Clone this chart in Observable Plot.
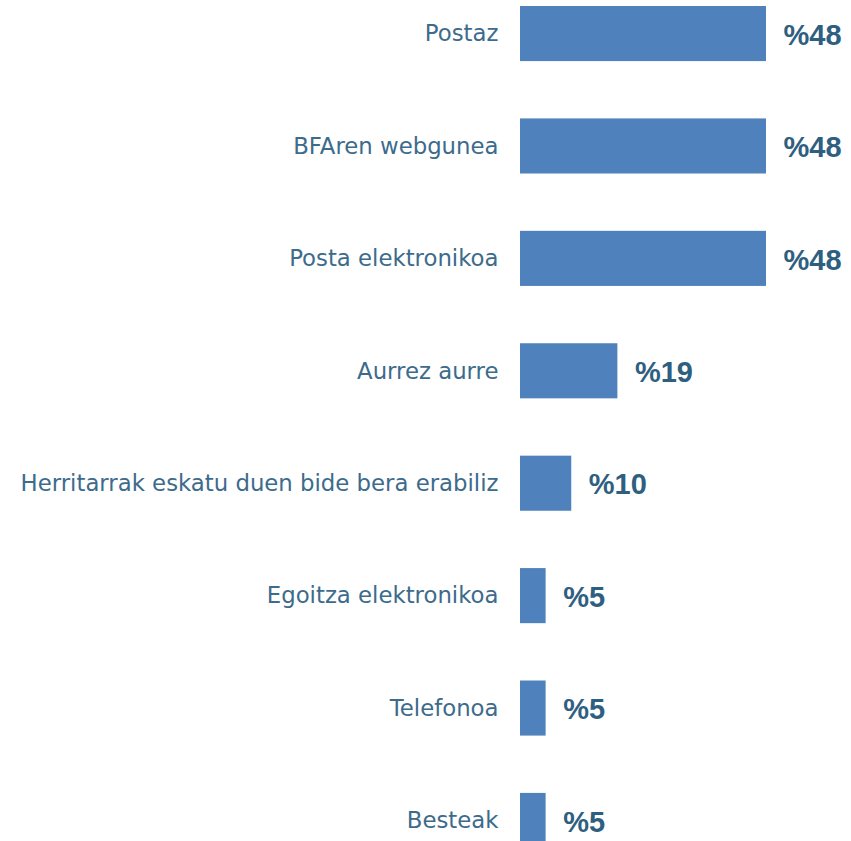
<!DOCTYPE html>
<html>
<head>
<meta charset="utf-8">
<script src="https://cdn.jsdelivr.net/npm/d3@7"></script>
<script src="https://cdn.jsdelivr.net/npm/@observablehq/plot@0.6"></script>
<style>
  html, body { margin: 0; padding: 0; background: #fff; overflow: hidden; }
</style>
</head>
<body>
<div id="chart"></div>
<script>
const categories = [
  "Postaz",
  "BFAren webgunea",
  "Posta elektronikoa",
  "Aurrez aurre",
  "Herritarrak eskatu duen bide bera erabiliz",
  "Egoitza elektronikoa",
  "Telefonoa",
  "Besteak"
];
const values = [48, 48, 48, 19, 10, 5, 5, 5];
const valueLabels = ["%48", "%48", "%48", "%19", "%10", "%5", "%5", "%5"];

const data = categories.map((c, i) => ({category: c, value: values[i], label: valueLabels[i]}));

const chart = Plot.plot({
  width: 851,
  height: 841,
  marginLeft: 520,
  marginRight: 0,
  marginTop: 0,
  marginBottom: 0,
  style: {background: "#fff", overflow: "hidden"},
  x: {domain: [0, 48], range: [520, 766], axis: null},
  y: {domain: categories, range: [6, 848], paddingInner: 0.51, paddingOuter: 0, round: false, axis: null},
  marks: [
    Plot.barX(data, {x: "value", y: "category", fill: "#4F81BD"}),
    Plot.text(data, {
      x: 0, y: "category", text: "category", textAnchor: "end", dx: -22, dy: 0,
      fill: "#3D6B8C", fontSize: 22.8, fontFamily: "DejaVu Sans"
    }),
    Plot.text(data, {
      x: "value", y: "category", text: "label", textAnchor: "start", dx: 17, dy: 1.5,
      fill: "#2F5F80", fontSize: 29, fontWeight: "bold", fontFamily: "Liberation Sans"
    })
  ]
});
document.getElementById("chart").appendChild(chart);
</script>
</body>
</html>
